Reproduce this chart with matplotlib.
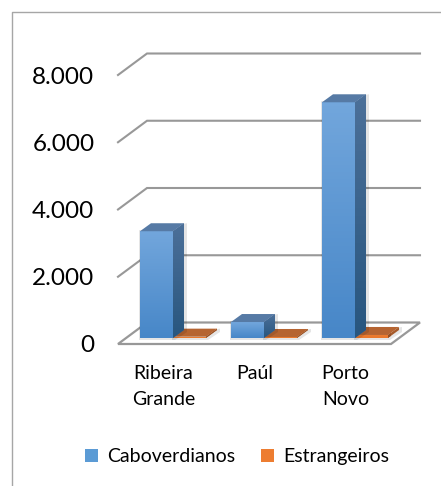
import numpy as np
import matplotlib
matplotlib.use("Agg")
import matplotlib.pyplot as plt
from matplotlib.colors import LinearSegmentedColormap
from matplotlib.patches import Polygon, Rectangle
from matplotlib.lines import Line2D

categories = ["Ribeira\nGrande", "Paúl", "Porto\nNovo"]
caboverdianos = [3175, 475, 7010]
estrangeiros = [40, 30, 90]
series_names = ["Caboverdianos", "Estrangeiros"]
yticks = [0, 2000, 4000, 6000, 8000]
ytick_labels = ["0", "2.000", "4.000", "6.000", "8.000"]

W, H = 441, 486
plt.rcParams['font.family'] = ['Lato', 'DejaVu Sans']
fig = plt.figure(figsize=(W / 100, H / 100), dpi=100, facecolor='white')

# front plane of the pseudo-3D box in pixels
L, R, B, T = 118, 391, 344, 75
ax = fig.add_axes([L / W, 1 - B / H, (R - L) / W, (B - T) / H])
ax.set_xlim(-0.5, 2.5)
ax.set_ylim(0, 8000)
ax.patch.set_alpha(0)
for s in ax.spines.values():
    s.set_visible(False)
px = 3 / (R - L)          # one pixel in category units
py = 8000 / (B - T)       # one pixel in value units

# chart frame: only the top and left edges fall inside the picture
fig.add_artist(Line2D([11.5 / W, 11.5 / W, 1], [0, 1 - 12.5 / H, 1 - 12.5 / H],
                      transform=fig.transFigure, color='#a6a6a6', lw=1.0))

# walls and floor
dx, dy = 29 * px, 21.5 * py
grid = '#989898'
x0, x1 = -0.5, 2.5
floor = Polygon([(x0, 0), (x1, 0), (x1 + dx, dy), (x0 + dx, dy)], closed=True,
                fc='white', ec=grid, lw=1.6, zorder=1, clip_on=False)
ax.add_patch(floor)
for v in yticks[1:]:
    ax.plot([x0, x0 + dx, x1 + dx], [v, v + dy, v + dy], color=grid, lw=1.5,
            zorder=1, clip_on=False, solid_joinstyle='miter')

bw = 33 * px
bdx, bdy = 11 * px, 8 * py
base = 6 * py
offs = [-23.5 * px, -23.5 * px + bw]


def vgrad(c_top, c_bot):
    return LinearSegmentedColormap.from_list('g', [c_bot, c_top])


G = np.linspace(0, 1, 64).reshape(-1, 1)


def draw_bar(cx, v, front, side, top, z):
    l, r = cx, cx + bw
    b, t = base, base + v
    # soft shadow
    ax.add_patch(Polygon([(l - 1 * px, b - 2 * py), (r + 2 * px, b - 2 * py), (r + bdx + 3 * px, b + bdy - 2 * py),
                          (r + bdx + 3 * px, t + bdy), (l - 1 * px, t + 1 * py)], closed=True,
                         fc='#000000', alpha=0.10, ec='none', zorder=z - 0.5, clip_on=False))
    rect = ax.bar(l, v, bw, bottom=b, align='edge', color=front[0], lw=0, zorder=z, clip_on=False)[0]
    im = ax.imshow(G, extent=(l, r, b, t), origin='lower', aspect='auto',
                   cmap=vgrad(front[0], front[1]), zorder=z + 0.1)
    im.set_clip_path(rect)
    sp = Polygon([(r, b), (r + bdx, b + bdy), (r + bdx, t + bdy), (r, t)], closed=True,
                 fc=side[0], ec='none', zorder=z, clip_on=False)
    ax.add_patch(sp)
    im2 = ax.imshow(G, extent=(r, r + bdx, b, t + bdy), origin='lower', aspect='auto',
                    cmap=vgrad(side[0], side[1]), zorder=z + 0.1)
    im2.set_clip_path(sp)
    ax.add_patch(Polygon([(l, t), (r, t), (r + bdx, t + bdy), (l + bdx, t + bdy)], closed=True,
                         fc=top, ec='none', zorder=z + 0.2, clip_on=False))


for i, (c, e) in enumerate(zip(caboverdianos, estrangeiros)):
    draw_bar(i + offs[1], e, ('#ED7D31', '#E9782C'), ('#A65A2A', '#8F4C22'), '#B56431', 3)
    draw_bar(i + offs[0], c, ('#72A6DC', '#4787C8'), ('#4C7099', '#28567F'), '#567AA5', 4)
ax.set_xlim(-0.5, 2.5)
ax.set_ylim(0, 8000)

ax.set_yticks(yticks)
ax.set_yticklabels(ytick_labels, fontsize=17.5, color='black')
ax.tick_params(axis='y', length=0, pad=17)
ax.set_xticks(range(3))
ax.set_xticklabels(categories, fontsize=14, color='black', linespacing=1.62)
ax.tick_params(axis='x', length=0, pad=15)

handles = [Rectangle((0, 0), 1, 1, fc='#5B9BD5', ec='none'),
           Rectangle((0, 0), 1, 1, fc='#ED7D31', ec='none')]
fig.legend(handles, series_names, loc='center', bbox_to_anchor=(237 / W, 1 - 456.5 / H), ncol=2,
           frameon=False, fontsize=14, handlelength=0.67, handleheight=0.67,
           handletextpad=0.5, columnspacing=1.3, borderpad=0)

fig.savefig('out.png', dpi=100, facecolor='white')
